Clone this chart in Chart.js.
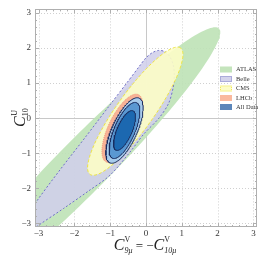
<!DOCTYPE html>
<html><head><meta charset="utf-8">
<script src="https://cdn.jsdelivr.net/npm/chart.js@4"></script>
<style>html,body{margin:0;padding:0;background:#fff}canvas{display:block}</style>
</head><body>
<canvas id="c" width="262" height="261"></canvas>
<script>
// ---- data ----
const legendNames = ['ATLAS','Belle','CMS','LHCb','All Data'];
// elliptical confidence regions (data units)
const regionNames = ['ATLAS','CMS','LHCb','All Data 3σ','All Data 2σ','All Data 1σ'];
const centerX   = [-1.72, -0.30, -0.66, -0.60, -0.60, -0.60];
const centerY   = [-1.32,  0.20, -0.29, -0.35, -0.35, -0.35];
const semiMajor = [ 5.40,  2.20,  1.06,  1.01,  0.86,  0.61];
const semiMinor = [ 0.74,  0.52,  0.39,  0.35,  0.29,  0.21];
const angleDeg  = [ 45.9,  55.0,  65.0,  66.0,  67.0,  67.0];
// Belle region boundary (non-elliptical), read point by point
const belleX = [-0.45, -0.20, 0.00, 0.18, 0.35, 0.52, 0.66, 0.76, 0.79, 0.76, 0.63, 0.36, -0.06, -0.42, -1.00, -1.60, -2.30, -3.00, -3.30, -3.45, -3.07, -2.40, -1.70, -1.05];
const belleY = [ 1.12,  1.46, 1.72, 1.87, 1.93, 1.90, 1.76, 1.52, 1.25, 0.88, 0.42, 0.00, -0.45, -0.93, -1.62, -2.07, -2.57, -3.05, -3.28, -3.00, -2.39, -1.47, -0.55,  0.32];
const xTicks = [-3,-2,-1,0,1,2,3];
const yTicks = [-3,-2,-1,0,1,2,3];
const axisMin = -3.1, axisMax = 3.1;

// ---- styles ----
const ellStyle = [
  {bg:'rgba(190,226,182,0.9)', bc:'rgba(0,0,0,0)', bw:0, dash:[], order:10},
  {bg:'rgba(253,253,200,0.9)', bc:'rgb(238,228,60)', bw:1, dash:[3,2], order:8},
  {bg:'rgb(248,178,150)', bc:'rgb(240,150,120)', bw:1, dash:[1,1], order:7},
  {bg:'rgb(168,204,236)', bc:'rgb(25,45,95)', bw:1, dash:[], order:3},
  {bg:'rgb(90,152,210)',  bc:'rgb(25,45,95)', bw:1, dash:[], order:2},
  {bg:'rgb(28,104,176)',  bc:'rgb(25,45,95)', bw:1, dash:[], order:1}
];
const belleStyle = {bg:'rgba(208,207,234,0.88)', bc:'rgb(112,112,200)', bw:1, dash:[2,2], order:9};
const legendFill = ['rgb(196,228,188)','rgb(212,211,236)','rgb(253,253,200)','rgb(250,185,158)','rgb(92,134,186)'];
const legendBorder = [null,'rgb(130,130,200)','rgb(240,230,90)',null,null];

const N = 180;
function ellipse(i){
  const th = angleDeg[i]*Math.PI/180, c=Math.cos(th), s=Math.sin(th);
  const pts=[];
  for(let k=0;k<=N;k++){
    const t=2*Math.PI*k/N, u=semiMajor[i]*Math.cos(t), v=semiMinor[i]*Math.sin(t);
    pts.push({x:centerX[i]+u*c-v*s, y:centerY[i]+u*s+v*c});
  }
  return pts;
}
const bellePts = belleX.map((x,i)=>({x, y:belleY[i]}));
bellePts.push({...bellePts[0]});

const fmt = v => (v<0?'\u2212':'')+Math.abs(v);
const SERIF = '"Liberation Serif","DejaVu Serif",serif';

const decor = {
  id:'decor',
  beforeDatasetsDraw(chart){
    const {ctx, chartArea:a, scales:{x,y}} = chart;
    ctx.save();
    ctx.beginPath(); ctx.rect(a.left,a.top,a.right-a.left,a.bottom-a.top); ctx.clip();
    ctx.lineWidth=1;
    xTicks.forEach(v=>{
      const px=Math.round(x.getPixelForValue(v))+0.5;
      ctx.strokeStyle = v===0?'rgb(200,200,200)':'rgb(208,208,208)';
      ctx.setLineDash(v===0?[]:[1,2]);
      ctx.beginPath(); ctx.moveTo(px,a.top); ctx.lineTo(px,a.bottom); ctx.stroke();
    });
    yTicks.forEach(v=>{
      const py=Math.round(y.getPixelForValue(v))+0.5;
      ctx.strokeStyle = v===0?'rgb(200,200,200)':'rgb(208,208,208)';
      ctx.setLineDash(v===0?[]:[1,2]);
      ctx.beginPath(); ctx.moveTo(a.left,py); ctx.lineTo(a.right,py); ctx.stroke();
    });
    ctx.restore();
  },
  afterDatasetsDraw(chart){
    const {ctx, chartArea:a, scales:{x,y}} = chart;
    ctx.save();
    ctx.strokeStyle='rgb(175,175,175)'; ctx.lineWidth=1; ctx.setLineDash([]);
    ctx.strokeRect(Math.round(a.left)+0.5,Math.round(a.top)+0.5,Math.round(a.right-a.left)-1,Math.round(a.bottom-a.top)-1);
    ctx.beginPath();
    for(let i=0;i<xTicks.length;i++){
      for(let m=-2;m<5;m++){
        const v=xTicks[i]+m*0.2; if(m<0 && i>0) continue;
        if(v<axisMin||v>axisMax) continue;
        const L = m===0?4:2;
        const px=Math.round(x.getPixelForValue(v))+0.5;
        ctx.moveTo(px,a.bottom); ctx.lineTo(px,a.bottom-L);
        ctx.moveTo(px,a.top); ctx.lineTo(px,a.top+L);
      }
    }
    for(let i=0;i<yTicks.length;i++){
      for(let m=-2;m<5;m++){
        const v=yTicks[i]+m*0.2; if(m<0 && i>0) continue;
        if(v<axisMin||v>axisMax) continue;
        const L = m===0?4:2;
        const py=Math.round(y.getPixelForValue(v))+0.5;
        ctx.moveTo(a.left,py); ctx.lineTo(a.left+L,py);
        ctx.moveTo(a.right,py); ctx.lineTo(a.right-L,py);
      }
    }
    ctx.stroke();
    // legend
    const rows=[69.5,79,88.5,98,107];
    legendNames.forEach((n,i)=>{
      const yy=rows[i];
      ctx.fillStyle=legendFill[i];
      ctx.fillRect(220,yy-3,12,6);
      if(legendBorder[i]){ctx.strokeStyle=legendBorder[i];ctx.setLineDash([1,1]);ctx.strokeRect(220.5,yy-2.5,11,5);ctx.setLineDash([]);}
      ctx.fillStyle='#333'; ctx.font='6.5px '+SERIF; ctx.textBaseline='middle'; ctx.textAlign='left';
      ctx.fillText(n,236,yy);
    });
    ctx.restore();
  },
  afterDraw(chart){
    const {ctx} = chart;
    ctx.save();
    ctx.fillStyle='#222'; ctx.textBaseline='alphabetic';
    // x title
    const parts=[['C','i16',0],['V','8',-8],['9μ','i8',3],[' = \u2212','13',0],['C','i16',0],['V','8',-8],['10μ','i8',3]];
    const fontOf=f=>(f[0]==='i'?'italic ':'')+f.replace('i','')+'px '+SERIF;
    let w=0, prevW=0; const xs=[];
    parts.forEach((p,k)=>{
      ctx.font=fontOf(p[1]); const pw=ctx.measureText(p[0]).width;
      if(k>0 && parts[k-1][2]<0 && p[2]>0){ xs.push(w-prevW); w=Math.max(w, w-prevW+pw); prevW=pw; return; }
      xs.push(w); w+=pw; prevW=pw;
    });
    let x0=145-w/2;
    parts.forEach((p,k)=>{ctx.font=fontOf(p[1]); ctx.fillText(p[0],x0+xs[k],250+p[2]);});
    // y title (rotated)
    ctx.translate(25,127); ctx.rotate(-Math.PI/2);
    ctx.font='italic 16px '+SERIF; const cw=ctx.measureText('C').width;
    ctx.fillText('C',0,0);
    ctx.font='8px '+SERIF; ctx.fillText('U',cw+0.5,-8);
    ctx.font='8px '+SERIF; ctx.fillText('10',cw,3);
    ctx.restore();
  }
};

const datasets = regionNames.map((n,i)=>({
  label:n, data:ellipse(i), showLine:true, pointRadius:0, pointHoverRadius:0,
  fill:'shape', backgroundColor:ellStyle[i].bg, borderColor:ellStyle[i].bc, borderWidth:ellStyle[i].bw,
  borderDash:ellStyle[i].dash, order:ellStyle[i].order, tension:0
}));
datasets.push({
  label:'Belle', data:bellePts, showLine:true, pointRadius:0, pointHoverRadius:0,
  fill:'shape', backgroundColor:belleStyle.bg, borderColor:belleStyle.bc, borderWidth:belleStyle.bw,
  borderDash:belleStyle.dash, order:belleStyle.order, tension:0.3
});

new Chart(document.getElementById('c'),{
  type:'scatter',
  data:{datasets},
  options:{
    responsive:false, animation:false, events:[],
    layout:{padding:{top:5,right:5,left:0,bottom:0}},
    plugins:{legend:{display:false},tooltip:{enabled:false}},
    scales:{
      x:{type:'linear',min:axisMin,max:axisMax,
        afterBuildTicks:s=>{s.ticks=xTicks.map(v=>({value:v}));},
        afterFit:s=>{s.height=34;},
        grid:{display:false,drawTicks:false}, border:{display:false},
        ticks:{autoSkip:false,maxRotation:0,padding:1,color:'#333',font:{family:SERIF,size:9},callback:v=>fmt(v)}},
      y:{type:'linear',min:axisMin,max:axisMax,
        afterBuildTicks:s=>{s.ticks=yTicks.map(v=>({value:v}));},
        afterFit:s=>{s.width=35;},
        grid:{display:false,drawTicks:false}, border:{display:false},
        ticks:{autoSkip:false,padding:4,color:'#333',font:{family:SERIF,size:9},callback:v=>fmt(v)}}
    }
  },
  plugins:[decor]
});
</script>
</body></html>
